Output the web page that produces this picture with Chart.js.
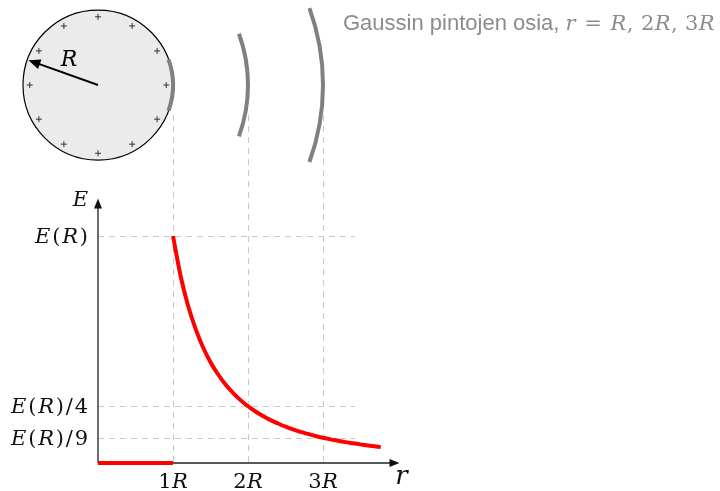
<!DOCTYPE html>
<html>
<head>
<meta charset="utf-8">
<script src="https://cdn.jsdelivr.net/npm/chart.js@4/dist/chart.umd.min.js"></script>
<style>
  html, body { margin: 0; padding: 0; background: #fff; }
  #wrap { width: 720px; height: 491px; }
</style>
</head>
<body>
<div id="wrap"><canvas id="fieldChart"></canvas></div>
<script>
// E(r) of a charged sphere (r in units of R, E in units of E(R))
const insideR = [0, 1];
const insideE = [0, 0];
const outsideR = [1.0, 1.1, 1.2, 1.3, 1.4, 1.5, 1.6, 1.7, 1.8, 1.9, 2.0, 2.1, 2.2, 2.3, 2.4, 2.5,
                  2.6, 2.7, 2.8, 2.9, 3.0, 3.1, 3.2, 3.3, 3.4, 3.5, 3.6, 3.7, 3.77];
const outsideE = [1.0, 0.826, 0.694, 0.592, 0.510, 0.444, 0.391, 0.346, 0.309, 0.277, 0.250, 0.227,
                  0.207, 0.189, 0.174, 0.160, 0.148, 0.137, 0.128, 0.119, 0.111, 0.104, 0.098,
                  0.092, 0.087, 0.082, 0.077, 0.073, 0.070];

const xTicks = [1, 2, 3];
const xTickLabels = ['1', '2', '3'];
const yTicks = [1, 0.25, 1 / 9];
const yTickLabels = ['E(R)', 'E(R)/4', 'E(R)/9'];
const gaussRadii = [1, 2, 3];
const sphereCenterY = 1.665; // height of the sphere centre in E units

const serif = '"DejaVu Serif", "Liberation Serif", serif';

function toPoints(xs, ys) {
    return xs.map((x, i) => ({ x: x, y: ys[i] }));
}

// draws a label where letters are italic and digits/brackets upright
function drawMath(ctx, text, x, y, size, align, gap) {
    gap = gap || 0;
    const parts = text.split('').map(ch => ({
        ch: ch,
        font: (/[A-Za-z]/.test(ch) ? 'italic ' : '') + size + 'px ' + serif
    }));
    let total = 0;
    parts.forEach(p => { ctx.font = p.font; p.w = ctx.measureText(p.ch).width + gap; total += p.w; });
    total -= gap;
    let cx = x;
    if (align === 'right') cx = x - total;
    if (align === 'center') cx = x - total / 2;
    ctx.textAlign = 'left';
    parts.forEach(p => { ctx.font = p.font; ctx.fillText(p.ch, cx, y); cx += p.w; });
    return cx;
}

const sketchPlugin = {
    id: 'sketch',
    beforeDatasetsDraw(chart) {
        const ctx = chart.ctx;
        const xs = chart.scales.x, ys = chart.scales.y;
        const x0 = xs.getPixelForValue(0), y0 = ys.getPixelForValue(0);
        const unit = xs.getPixelForValue(1) - x0;
        const cy = ys.getPixelForValue(sphereCenterY);

        ctx.save();
        // dashed guide lines
        ctx.strokeStyle = '#c8c8c8';
        ctx.lineWidth = 1;
        ctx.setLineDash([6, 5]);
        xTicks.forEach(v => {
            const px = Math.round(xs.getPixelForValue(v)) + 0.5;
            ctx.beginPath();
            ctx.moveTo(px, cy + 30);
            ctx.lineTo(px, y0);
            ctx.stroke();
        });
        yTicks.forEach(v => {
            const py = Math.round(ys.getPixelForValue(v)) + 0.5;
            ctx.beginPath();
            ctx.moveTo(x0, py);
            ctx.lineTo(xs.getPixelForValue(3.43), py);
            ctx.stroke();
        });
        ctx.setLineDash([]);

        // sphere
        ctx.beginPath();
        ctx.arc(x0, cy, unit, 0, Math.PI * 2);
        ctx.fillStyle = '#ebebeb';
        ctx.fill();
        ctx.strokeStyle = '#000';
        ctx.lineWidth = 1.2;
        ctx.stroke();

        // surface charges
        ctx.strokeStyle = '#333';
        ctx.lineWidth = 1;
        for (let k = 0; k < 12; k++) {
            const a = k * Math.PI / 6;
            const px = x0 + Math.cos(a) * unit * 0.91;
            const py = cy + Math.sin(a) * unit * 0.91;
            ctx.beginPath();
            ctx.moveTo(px - 3, py); ctx.lineTo(px + 3, py);
            ctx.moveTo(px, py - 3); ctx.lineTo(px, py + 3);
            ctx.stroke();
        }

        // radius arrow
        const ang = Math.atan2(-25, -70);
        const tipX = x0 + Math.cos(ang) * unit * 0.985;
        const tipY = cy + Math.sin(ang) * unit * 0.985;
        ctx.strokeStyle = '#000';
        ctx.fillStyle = '#000';
        ctx.lineWidth = 2;
        ctx.beginPath();
        ctx.moveTo(x0, cy);
        ctx.lineTo(tipX - Math.cos(ang) * 8, tipY - Math.sin(ang) * 8);
        ctx.stroke();
        ctx.beginPath();
        ctx.moveTo(tipX, tipY);
        ctx.lineTo(tipX - Math.cos(ang) * 12 - Math.sin(ang) * 5, tipY - Math.sin(ang) * 12 + Math.cos(ang) * 5);
        ctx.lineTo(tipX - Math.cos(ang) * 12 + Math.sin(ang) * 5, tipY - Math.sin(ang) * 12 - Math.cos(ang) * 5);
        ctx.closePath();
        ctx.fill();
        ctx.textBaseline = 'alphabetic';
        drawMath(ctx, 'R', 69, 66, 22, 'center');

        // parts of Gaussian surfaces
        ctx.strokeStyle = '#808080';
        ctx.lineWidth = 4;
        const span = 20 * Math.PI / 180;
        gaussRadii.forEach(r => {
            ctx.beginPath();
            ctx.arc(x0, cy, r * unit, -span, span);
            ctx.stroke();
        });

        // caption
        ctx.fillStyle = '#8c8c8c';
        ctx.textAlign = 'left';
        const ty = 30;
        ctx.font = '22px "Liberation Sans", Arial, sans-serif';
        const head = 'Gaussin pintojen osia, ';
        ctx.fillText(head, 343, ty);
        let tx = 343 + ctx.measureText(head).width;
        tx = drawMath(ctx, 'r', tx, ty, 21, 'left');
        tx = drawMath(ctx, ' = ', tx + 2, ty, 21, 'left');
        tx = drawMath(ctx, 'R, 2R, 3R', tx + 2, ty, 21, 'left', 0.4);

        // axes with arrows
        const xEnd = xs.getPixelForValue(4.02);
        const yEnd = ys.getPixelForValue(1.165);
        ctx.strokeStyle = '#222';
        ctx.fillStyle = '#111';
        ctx.lineWidth = 1.3;
        ctx.beginPath();
        ctx.moveTo(x0, y0); ctx.lineTo(xEnd - 8, y0);
        ctx.moveTo(x0, y0); ctx.lineTo(x0, yEnd + 8);
        ctx.stroke();
        ctx.beginPath();
        ctx.moveTo(xEnd, y0); ctx.lineTo(xEnd - 10, y0 - 4); ctx.lineTo(xEnd - 10, y0 + 4); ctx.closePath();
        ctx.moveTo(x0, yEnd); ctx.lineTo(x0 - 4, yEnd + 10); ctx.lineTo(x0 + 4, yEnd + 10); ctx.closePath();
        ctx.fill();

        // tick labels
        ctx.fillStyle = '#111';
        xTicks.forEach((v, i) => {
            drawMath(ctx, xTickLabels[i] + 'R', xs.getPixelForValue(v), y0 + 25, 21, 'center', 0.5);
        });
        yTicks.forEach((v, i) => {
            drawMath(ctx, yTickLabels[i], x0 - 10, ys.getPixelForValue(v) + 7, 21, 'right', 1.8);
        });
        drawMath(ctx, 'E', 88, yEnd + 7, 21, 'right');
        drawMath(ctx, 'r', xEnd + 2, y0 + 21, 26, 'center');
        ctx.restore();
    }
};

new Chart(document.getElementById('fieldChart'), {
    type: 'line',
    data: {
        datasets: [{
            data: toPoints(insideR, insideE),
            borderColor: '#ff0000',
            borderWidth: 4,
            pointRadius: 0,
            clip: false
        }, {
            data: toPoints(outsideR, outsideE),
            borderColor: '#ff0000',
            borderWidth: 4,
            pointRadius: 0,
            tension: 0.3,
            clip: false
        }]
    },
    options: {
        responsive: true,
        maintainAspectRatio: false,
        animation: false,
        layout: { padding: { left: 98, right: 322, top: 199, bottom: 28 } },
        plugins: {
            legend: { display: false },
            tooltip: { enabled: false }
        },
        scales: {
            x: { type: 'linear', display: false, min: 0, max: 4 },
            y: { type: 'linear', display: false, min: 0, max: 1.163 }
        }
    },
    plugins: [sketchPlugin]
});
</script>
</body>
</html>
